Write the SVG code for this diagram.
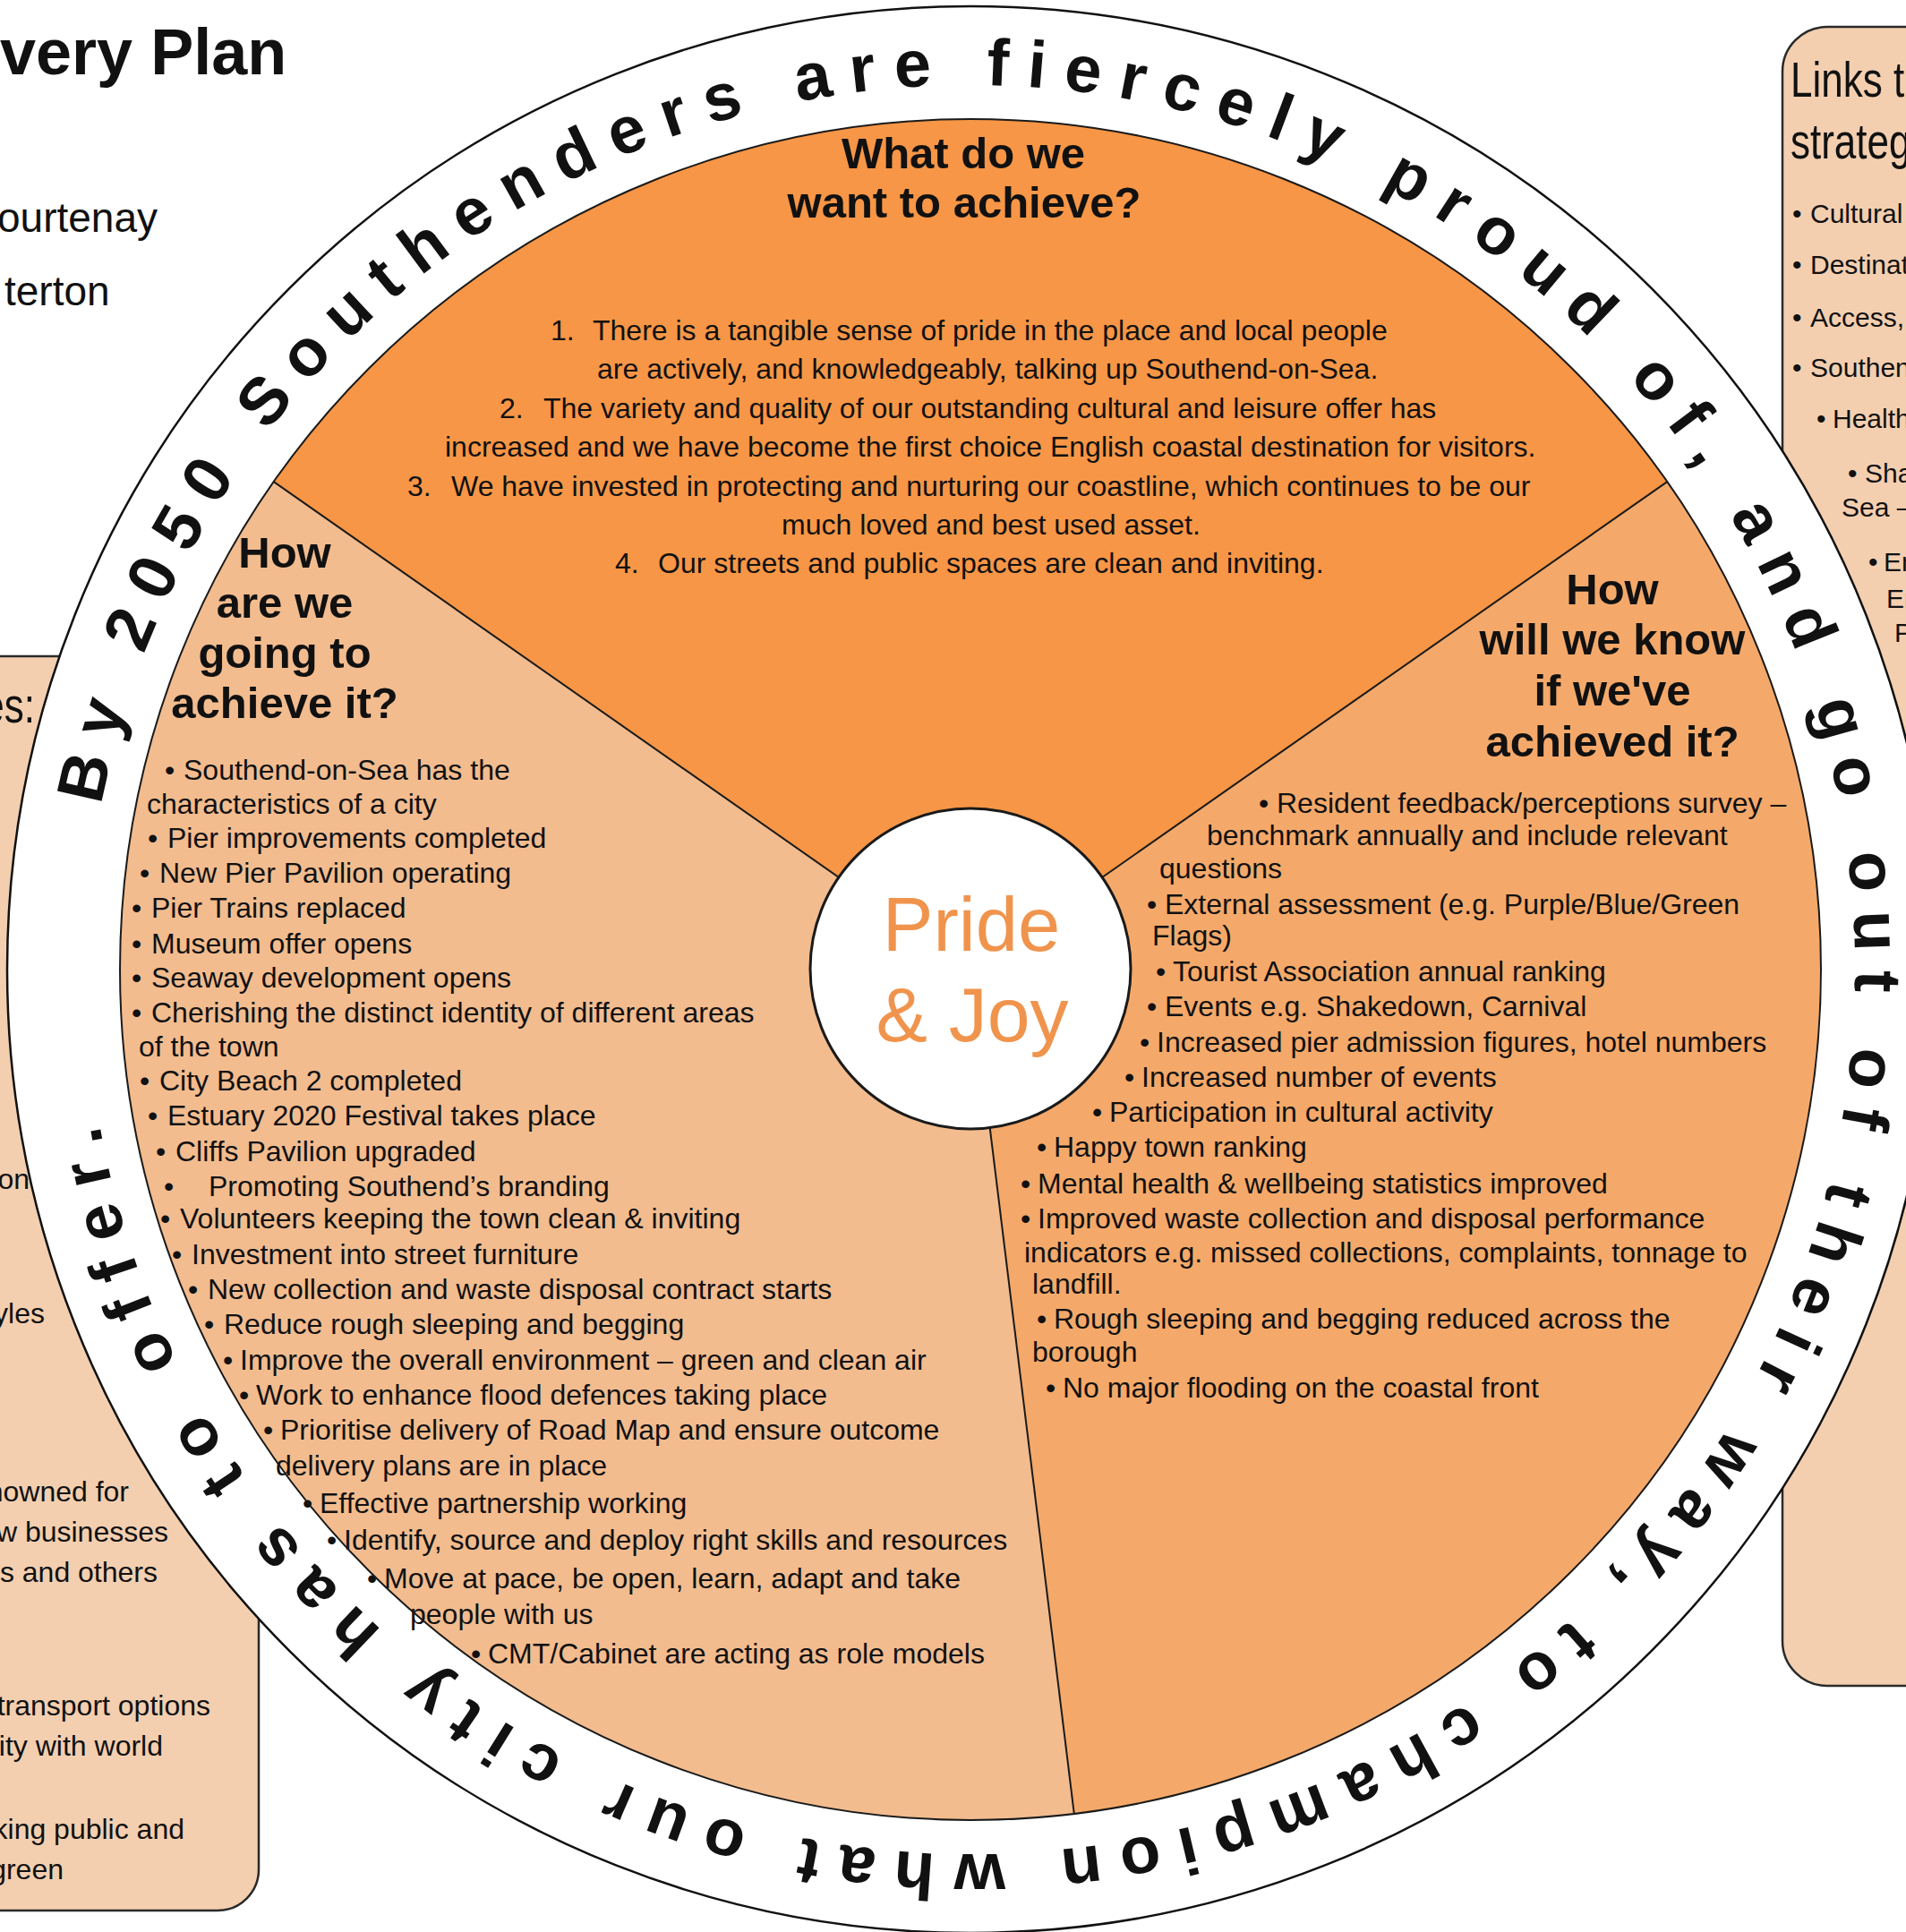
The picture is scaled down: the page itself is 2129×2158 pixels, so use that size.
<svg xmlns="http://www.w3.org/2000/svg" xmlns:xlink="http://www.w3.org/1999/xlink" width="2129" height="2158" viewBox="0 0 2129 2158">
<style>
text { font-family: "Liberation Sans", Arial, sans-serif; fill: #111; }
.li { font-size: 32px; }
.lb { font-size: 32px; text-anchor: end; }
.bx { font-size: 30px; }
.nar { font-size: 55px; }
.hd { font-size: 49px; font-weight: bold; text-anchor: middle; }
.ring { font-size: 74px; font-weight: bold; letter-spacing: 20px; }
.box { fill: #F3CFB0; stroke: #2a2a2a; stroke-width: 2.5; }
.div { stroke: #1a1a1a; stroke-width: 2; fill: none; }
</style>
<defs>
<path id="ringPath" d="M 111.0 911.4 A 988 988 0 1 1 2057.0 1254.6 A 988 988 0 1 1 111.0 911.4"/>
</defs>
<rect x="0" y="0" width="2129" height="2158" fill="#ffffff"/>

<g id="title">
<text x="0" y="83" style="font-size:72px;font-weight:bold">very Plan</text>
<text x="-3" y="259" style="font-size:46px">ourtenay</text>
<text x="5" y="341" style="font-size:46px">terton</text>
</g>

<g id="box-left">
<rect class="box" x="-60" y="733" width="349" height="1401" rx="46" ry="46"/>
<text class="nar" transform="translate(39,807) scale(0.8,1)" text-anchor="end">es:</text>
<text class="lb" x="33" y="1328">on</text>
<text class="lb" x="50" y="1478">yles</text>
<text class="lb" x="144" y="1677">nowned for</text>
<text class="lb" x="188" y="1722">w businesses</text>
<text class="lb" x="176" y="1767">s and others</text>
<text class="lb" x="235" y="1916">transport options</text>
<text class="lb" x="182" y="1961">ity with world</text>
<text class="lb" x="206" y="2054">king public and</text>
<text class="lb" x="71" y="2099">green</text>
</g>

<g id="box-right">
<rect class="box" x="1991" y="30" width="220" height="1853" rx="50" ry="50"/>
<text class="nar" transform="translate(2000,108) scale(0.8,1)">Links t</text>
<text class="nar" transform="translate(2000,177) scale(0.8,1)">strateg</text>
<text class="bx" x="2002" y="249">•</text><text class="bx" x="2022" y="249">Cultural</text>
<text class="bx" x="2002" y="306">•</text><text class="bx" x="2022" y="306">Destinat</text>
<text class="bx" x="2002" y="365">•</text><text class="bx" x="2022" y="365">Access,</text>
<text class="bx" x="2002" y="421">•</text><text class="bx" x="2022" y="421">Southen</text>
<text class="bx" x="2029" y="478">•</text><text class="bx" x="2047" y="478">Health</text>
<text class="bx" x="2064" y="539">•</text><text class="bx" x="2083" y="539">Sha</text>
<text class="bx" x="2057" y="577">Sea –</text>
<text class="bx" x="2087" y="638">•</text><text class="bx" x="2104" y="638">En</text>
<text class="bx" x="2107" y="679">En</text>
<text class="bx" x="2116" y="717">P</text>
</g>

<g id="ring">
<circle cx="1084" cy="1083" r="1076" fill="#ffffff" stroke="#111" stroke-width="2.5"/>
<text class="ring"><textPath xlink:href="#ringPath" href="#ringPath" startOffset="12">By 2050 Southenders are fiercely proud of, and go out of their way, to champion what our city has to offer.</textPath></text>
</g>

<g id="sector-top">
<path d="M 1084 1083 L 305.8 538.1 A 950 950 0 0 1 1862.2 538.1 Z" fill="#F79646"/>
<text class="hd" x="1076" y="188">What do we</text>
<text class="hd" x="1077" y="243">want to achieve?</text>
<text class="li" x="615" y="380">1.</text><text class="li" x="662" y="380">There is a tangible sense of pride in the place and local people</text>
<text class="li" x="667" y="423">are actively, and knowledgeably, talking up Southend-on-Sea.</text>
<text class="li" x="558" y="467">2.</text><text class="li" x="607" y="467">The variety and quality of our outstanding cultural and leisure offer has</text>
<text class="li" x="497" y="510">increased and we have become the first choice English coastal destination for visitors.</text>
<text class="li" x="455" y="554">3.</text><text class="li" x="504" y="554">We have invested in protecting and nurturing our coastline, which continues to be our</text>
<text class="li" x="873" y="597">much loved and best used asset.</text>
<text class="li" x="687" y="640">4.</text><text class="li" x="735" y="640">Our streets and public spaces are clean and inviting.</text>
</g>

<g id="sector-right">
<path d="M 1084 1083 L 1862.2 538.1 A 950 950 0 0 1 1199.8 2025.9 Z" fill="#F4A96A"/>
<text class="hd" x="1801" y="675">How</text>
<text class="hd" x="1801" y="731">will we know</text>
<text class="hd" x="1801" y="788">if we've</text>
<text class="hd" x="1801" y="845">achieved it?</text>
<text class="li" x="1406" y="908">•</text><text class="li" x="1426" y="908">Resident feedback/perceptions survey –</text>
<text class="li" x="1348" y="944">benchmark annually and include relevant</text>
<text class="li" x="1295" y="981">questions</text>
<text class="li" x="1281" y="1021">•</text><text class="li" x="1301" y="1021">External assessment (e.g. Purple/Blue/Green</text>
<text class="li" x="1287" y="1056">Flags)</text>
<text class="li" x="1291" y="1096">•</text><text class="li" x="1310" y="1096">Tourist Association annual ranking</text>
<text class="li" x="1281" y="1135">•</text><text class="li" x="1301" y="1135">Events e.g. Shakedown, Carnival</text>
<text class="li" x="1273" y="1175">•</text><text class="li" x="1292" y="1175">Increased pier admission figures, hotel numbers</text>
<text class="li" x="1256" y="1214">•</text><text class="li" x="1275" y="1214">Increased number of events</text>
<text class="li" x="1220" y="1253">•</text><text class="li" x="1239" y="1253">Participation in cultural activity</text>
<text class="li" x="1158" y="1292">•</text><text class="li" x="1177" y="1292">Happy town ranking</text>
<text class="li" x="1140" y="1333">•</text><text class="li" x="1159" y="1333">Mental health &amp; wellbeing statistics improved</text>
<text class="li" x="1140" y="1372">•</text><text class="li" x="1159" y="1372">Improved waste collection and disposal performance</text>
<text class="li" x="1144" y="1410">indicators e.g. missed collections, complaints, tonnage to</text>
<text class="li" x="1153" y="1445">landfill.</text>
<text class="li" x="1158" y="1484">•</text><text class="li" x="1177" y="1484">Rough sleeping and begging reduced across the</text>
<text class="li" x="1153" y="1521">borough</text>
<text class="li" x="1168" y="1561">•</text><text class="li" x="1187" y="1561">No major flooding on the coastal front</text>
</g>

<g id="sector-left">
<path d="M 1084 1083 L 1199.8 2025.9 A 950 950 0 0 1 305.8 538.1 Z" fill="#F2BC8F"/>
<text class="hd" x="318" y="634">How</text>
<text class="hd" x="318" y="690">are we</text>
<text class="hd" x="318" y="746">going to</text>
<text class="hd" x="318" y="802">achieve it?</text>
<text class="li" x="184" y="871">•</text><text class="li" x="205" y="871">Southend-on-Sea has the</text>
<text class="li" x="164" y="909">characteristics of a city</text>
<text class="li" x="165" y="947">•</text><text class="li" x="187" y="947">Pier improvements completed</text>
<text class="li" x="156" y="986">•</text><text class="li" x="178" y="986">New Pier Pavilion operating</text>
<text class="li" x="147" y="1025">•</text><text class="li" x="169" y="1025">Pier Trains replaced</text>
<text class="li" x="147" y="1065">•</text><text class="li" x="169" y="1065">Museum offer opens</text>
<text class="li" x="147" y="1103">•</text><text class="li" x="169" y="1103">Seaway development opens</text>
<text class="li" x="147" y="1142">•</text><text class="li" x="169" y="1142">Cherishing the distinct identity of different areas</text>
<text class="li" x="155" y="1180">of the town</text>
<text class="li" x="156" y="1218">•</text><text class="li" x="178" y="1218">City Beach 2 completed</text>
<text class="li" x="165" y="1257">•</text><text class="li" x="187" y="1257">Estuary 2020 Festival takes place</text>
<text class="li" x="174" y="1297">•</text><text class="li" x="196" y="1297">Cliffs Pavilion upgraded</text>
<text class="li" x="183" y="1336">•</text><text class="li" x="233" y="1336">Promoting Southend’s branding</text>
<text class="li" x="179" y="1372">•</text><text class="li" x="201" y="1372">Volunteers keeping the town clean &amp; inviting</text>
<text class="li" x="192" y="1412">•</text><text class="li" x="214" y="1412">Investment into street furniture</text>
<text class="li" x="210" y="1451">•</text><text class="li" x="232" y="1451">New collection and waste disposal contract starts</text>
<text class="li" x="228" y="1490">•</text><text class="li" x="250" y="1490">Reduce rough sleeping and begging</text>
<text class="li" x="249" y="1530">•</text><text class="li" x="268" y="1530">Improve the overall environment – green and clean air</text>
<text class="li" x="267" y="1569">•</text><text class="li" x="286" y="1569">Work to enhance flood defences taking place</text>
<text class="li" x="294" y="1608">•</text><text class="li" x="313" y="1608">Prioritise delivery of Road Map and ensure outcome</text>
<text class="li" x="308" y="1648">delivery plans are in place</text>
<text class="li" x="338" y="1690">•</text><text class="li" x="357" y="1690">Effective partnership working</text>
<text class="li" x="365" y="1731">•</text><text class="li" x="384" y="1731">Identify, source and deploy right skills and resources</text>
<text class="li" x="410" y="1774">•</text><text class="li" x="429" y="1774">Move at pace, be open, learn, adapt and take</text>
<text class="li" x="458" y="1814">people with us</text>
<text class="li" x="526" y="1858">•</text><text class="li" x="545" y="1858">CMT/Cabinet are acting as role models</text>
</g>

<g id="connectors">
<line class="div" x1="1084" y1="1083" x2="305.8" y2="538.1"/>
<line class="div" x1="1084" y1="1083" x2="1862.2" y2="538.1"/>
<line class="div" x1="1084" y1="1083" x2="1199.8" y2="2025.9"/>
<circle class="div" cx="1084" cy="1083" r="950"/>
</g>

<g id="center">
<circle cx="1084" cy="1082" r="179" fill="#ffffff" stroke="#1a1a1a" stroke-width="3"/>
<text x="1085" y="1062" text-anchor="middle" style="font-size:85px;fill:#F0944D">Pride</text>
<text x="1086" y="1163" text-anchor="middle" style="font-size:86px;fill:#F0944D">&amp; Joy</text>
</g>
</svg>
